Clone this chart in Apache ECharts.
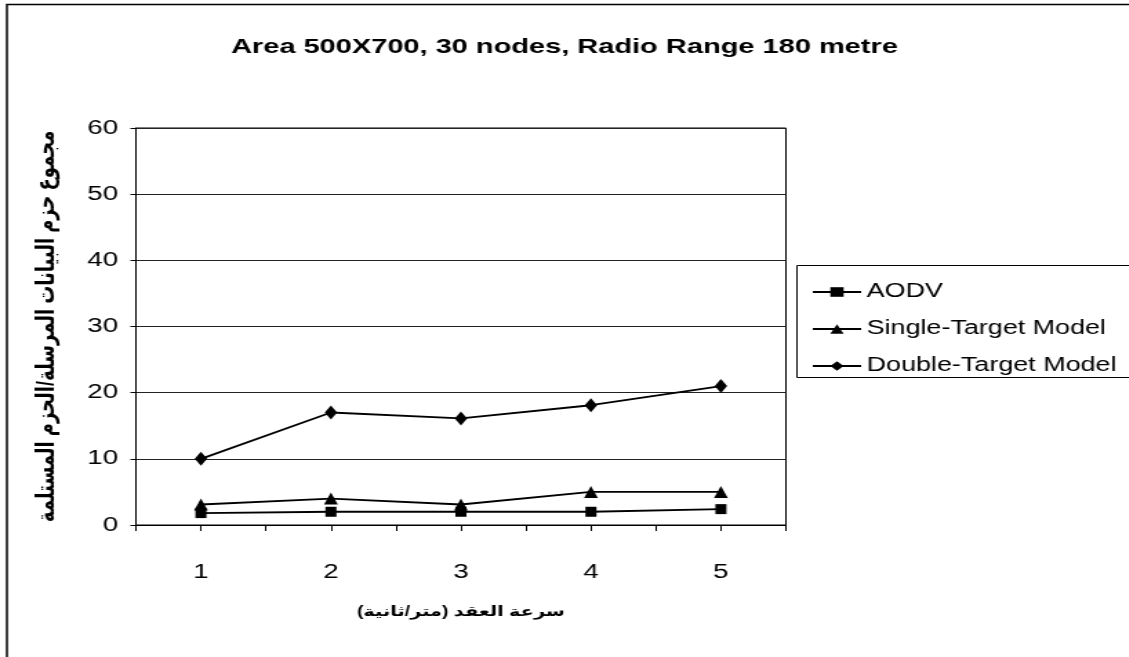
<!DOCTYPE html>
<html><head><meta charset="utf-8">
<script src="https://cdn.jsdelivr.net/npm/echarts@6/dist/echarts.min.js"></script>
<style>
html,body{margin:0;padding:0;background:#fff;overflow:hidden;width:1129px;height:657px}
#c{width:818px;height:657px;transform:scaleX(1.38);transform-origin:0 0}
</style>
</head><body><div id="c"></div>
<script>
const categories = [1, 2, 3, 4, 5];
const aodv = [1.8, 2.0, 2.0, 2.0, 2.4];
const singleTarget = [3.1, 4.0, 3.1, 5.0, 5.0];
const doubleTarget = [10.0, 17.0, 16.1, 18.1, 21.0];
const seriesNames = ['AODV', 'Single-Target Model', 'Double-Target Model'];
const titleText = 'Area 500X700, 30 nodes, Radio Range 180 metre';
const xName = 'سرعة العقد (متر/ثانية)';
const yName = 'مجموع حزم البيانات المرسلة/الحزم المستلمة';

const FONT = '"Liberation Sans", Arial, "DejaVu Sans", sans-serif';
const chart = echarts.init(document.getElementById('c'));
function pts(arr){ return categories.map((c,i)=>[c, arr[i]]); }
const lineStyle = {color:'#000', width:1.8};
const itemStyle = {color:'#000'};
chart.setOption({
  animation:false,
  backgroundColor:'#fff',
  textStyle:{fontFamily:FONT},
  title:{text:titleText, left:'center', top:32,
    textStyle:{fontFamily:FONT, fontWeight:'bold', fontSize:21, color:'#000'}},
  graphic:[
    {type:'rect', shape:{x:5, y:4.5, width:1000, height:700}, style:{fill:null, stroke:'#000', lineWidth:1.5}, silent:true, z:-1},
    {type:'rect', shape:{x:577.5, y:265.5, width:400, height:112}, style:{fill:'#fff', stroke:'#000', lineWidth:1}, silent:true, z:0}
  ],
  legend:{orient:'vertical', left:583, top:277, itemGap:17, itemWidth:35, itemHeight:12,
    data:seriesNames, z:5,
    textStyle:{fontFamily:FONT, fontSize:19.5, color:'#000', padding:[0,0,0,-1]}},
  grid:{left:98.5, right:248.5, top:128, bottom:132, show:true, borderColor:'#000', borderWidth:1},
  xAxis:{type:'value', min:0.5, max:5.5, interval:0.5,
    name:xName, nameLocation:'middle', nameGap:80,
    nameTextStyle:{fontFamily:FONT, fontWeight:'bold', fontSize:14, color:'#000'},
    axisLine:{show:true, lineStyle:{color:'#000'}},
    axisTick:{show:true, length:6, lineStyle:{color:'#000'}},
    splitLine:{show:false},
    axisLabel:{margin:37, fontSize:20, color:'#000', fontFamily:FONT,
      formatter:v=> Number.isInteger(v) ? String(v) : ''}},
  yAxis:{type:'value', min:0, max:60, interval:10,
    name:yName, nameLocation:'middle', nameGap:55,
    nameTextStyle:{fontFamily:FONT, fontWeight:'bold', fontSize:18, color:'#000'},
    axisLine:{show:true, lineStyle:{color:'#000'}},
    axisTick:{show:true, length:4, lineStyle:{color:'#000'}},
    splitLine:{show:true, lineStyle:{color:'#222', width:1}},
    axisLabel:{margin:13, fontSize:20, color:'#000', fontFamily:FONT}},
  series:[
    {name:seriesNames[0], type:'line', data:pts(aodv), symbol:'rect', symbolSize:[8,10], lineStyle, itemStyle},
    {name:seriesNames[1], type:'line', data:pts(singleTarget), symbol:'triangle', symbolSize:[10,12], lineStyle, itemStyle},
    {name:seriesNames[2], type:'line', data:pts(doubleTarget), symbol:'diamond', symbolSize:[9,14], lineStyle, itemStyle}
  ]
});
</script></body></html>
